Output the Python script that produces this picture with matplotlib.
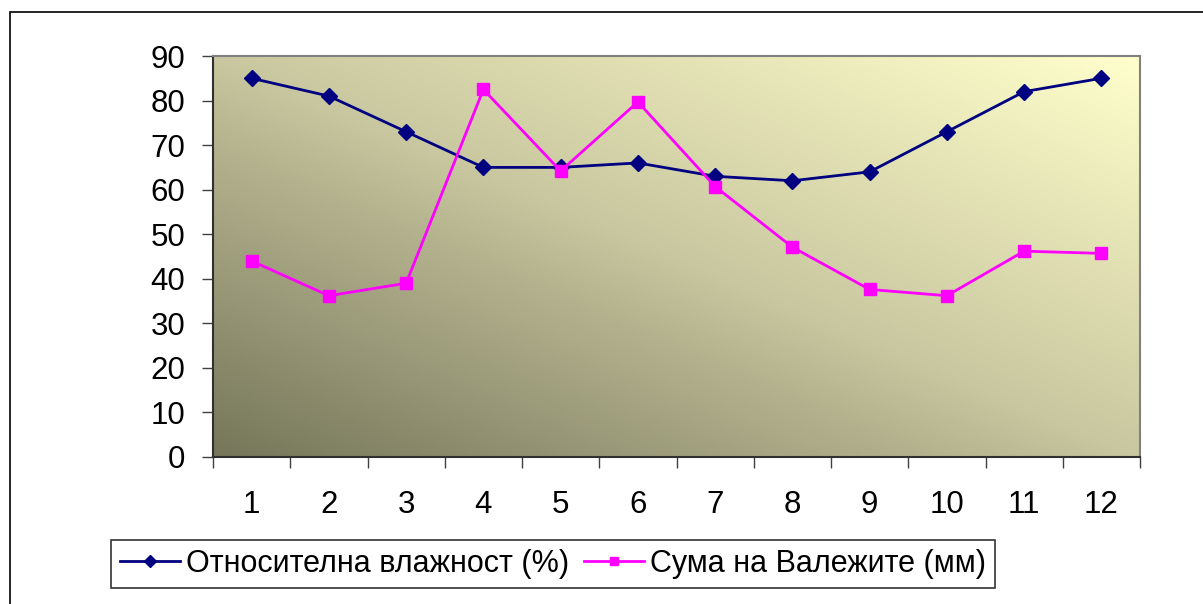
import numpy as np
import matplotlib
matplotlib.use("Agg")
import matplotlib.pyplot as plt
from matplotlib.colors import LinearSegmentedColormap
from matplotlib.patches import Rectangle

months = [1, 2, 3, 4, 5, 6, 7, 8, 9, 10, 11, 12]
humidity = [85, 81, 73, 65, 65, 66, 63, 62, 64, 73, 82, 85]
precip = [44, 36.2, 39, 82.5, 64.2, 79.7, 60.7, 47.1, 37.6, 36.2, 46.2, 45.7]
yticks = [0, 10, 20, 30, 40, 50, 60, 70, 80, 90]
label_h = "Относителна влажност (%)"
label_p = "Сума на Валежите (мм)"

plt.rcParams['font.family'] = ['Liberation Sans', 'DejaVu Sans']

W, H = 1203, 604
fig = plt.figure(figsize=(W / 100, H / 100), dpi=100)

# outer chart border
fig.patches.append(Rectangle((10 / W, -0.1), 1.2, 1 - 12 / H + 0.1, transform=fig.transFigure,
                             fill=False, edgecolor='black', linewidth=1.2, zorder=0))

ax = fig.add_axes([213 / W, 1 - 457 / H, (1140 - 213) / W, (457 - 56) / H])

# diagonal gradient background
cmap = LinearSegmentedColormap.from_list(
    'g', [(0.0, '#76765a'), (0.38, '#b3b18d'), (0.5, '#c9c79f'), (1.0, '#ffffcc')])
nx, ny = 300, 150
xx, yy = np.meshgrid(np.linspace(0, 1, nx), np.linspace(0, 1, ny))
grad = (xx + yy) / 2
ax.imshow(grad, extent=[0.5, 12.5, 0, 90], origin='lower', aspect='auto', cmap=cmap,
          vmin=0, vmax=1, zorder=0, interpolation='bilinear')

ax.plot(months, humidity, color='#000080', linewidth=2, marker='D', markersize=8.5,
        label=label_h, zorder=3)
ax.plot(months, precip, color='#ff00ff', linewidth=2, marker='s', markersize=9,
        label=label_p, zorder=3)

ax.set_xlim(0.5, 12.5)
ax.set_ylim(0, 90)
ax.set_yticks(yticks)
ax.set_yticklabels([str(v) for v in yticks], fontsize=22.5)
ax.set_xticks(months)
ax.set_xticklabels([str(m) for m in months], fontsize=22.5)
ax.set_xticks(np.arange(0.5, 13, 1), minor=True)
ax.tick_params(axis='x', which='major', length=0, pad=24)
ax.tick_params(axis='x', which='minor', length=8, width=1, color='#404040', direction='out')
ax.tick_params(axis='y', which='major', length=8, width=1, color='#404040', direction='out', pad=12)

for s in ['top', 'right']:
    ax.spines[s].set_color('#808080')
    ax.spines[s].set_linewidth(1.5)
for s in ['left', 'bottom']:
    ax.spines[s].set_color('#303030')
    ax.spines[s].set_linewidth(1.5)

leg = fig.legend(loc='center', bbox_to_anchor=(553 / W, 1 - 564 / H), ncol=2, fontsize=22,
                 frameon=True, fancybox=False, edgecolor='black', handlelength=1.95,
                 markerscale=0.7, columnspacing=0.5, handletextpad=0.2, borderpad=0.3)
leg.get_frame().set_linewidth(1.2)

fig.savefig('out.png', dpi=100)
